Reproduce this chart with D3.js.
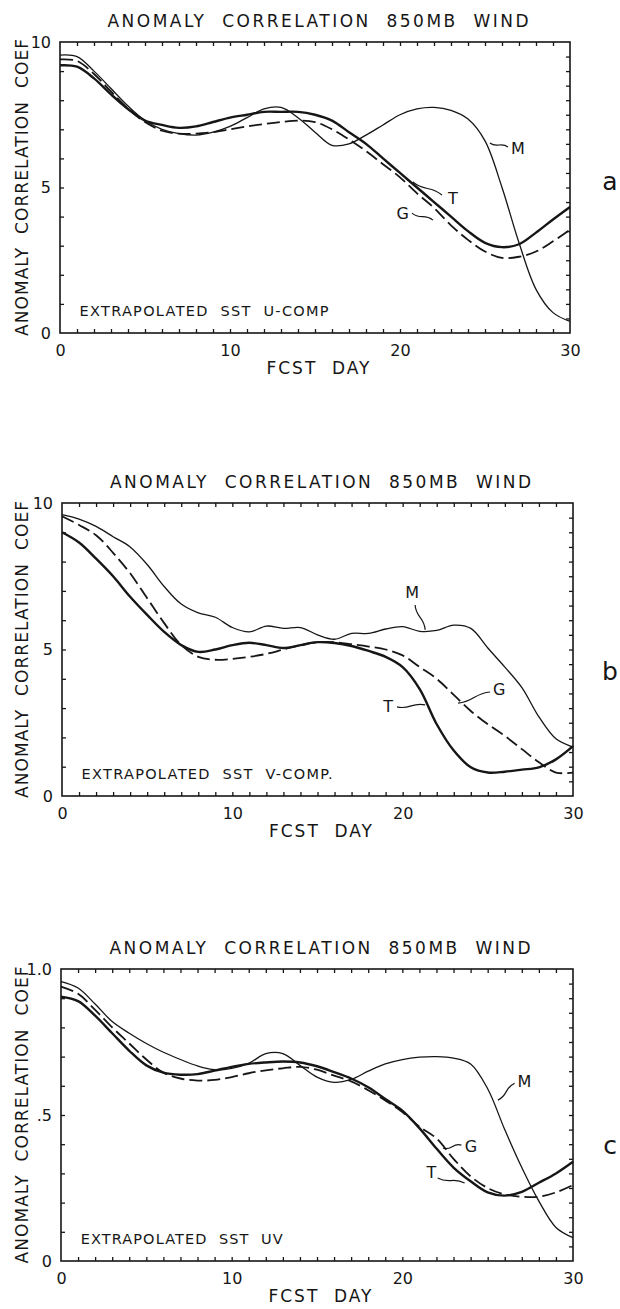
<!DOCTYPE html>
<html>
<head>
<meta charset="utf-8">
<script src="https://cdn.jsdelivr.net/npm/d3@7"></script>
<style>
  body { margin: 0; background: #fff; }
  svg text { font-family: "DejaVu Sans", sans-serif; fill: #161616; white-space: pre; }
</style>
</head>
<body>
<svg id="chart" width="620" height="1309"></svg>
<script>
// forecast day (x) for every series
const days = [0,1,2,3,4,5,6,7,8,9,10,11,12,13,14,15,16,17,18,19,20,21,22,23,24,25,26,27,28,29,30]

// panel a : extrapolated SST, u-component
const mA = [0.955,0.95,0.90,0.84,0.78,0.73,0.70,0.685,0.68,0.69,0.71,0.74,0.77,0.775,0.74,0.69,0.645,0.65,0.68,0.715,0.75,0.77,0.775,0.765,0.735,0.66,0.50,0.31,0.15,0.07,0.04]
const tA = [0.92,0.915,0.875,0.82,0.77,0.73,0.715,0.705,0.71,0.725,0.74,0.75,0.76,0.76,0.76,0.75,0.73,0.69,0.65,0.60,0.55,0.50,0.45,0.40,0.35,0.31,0.295,0.305,0.345,0.39,0.433]
const gA = [0.94,0.935,0.89,0.83,0.77,0.725,0.695,0.685,0.685,0.69,0.70,0.71,0.718,0.725,0.73,0.725,0.70,0.665,0.625,0.58,0.535,0.48,0.43,0.37,0.32,0.28,0.258,0.262,0.28,0.315,0.355]

// panel b : extrapolated SST, v-component
const mB = [0.96,0.945,0.92,0.885,0.85,0.79,0.715,0.655,0.625,0.61,0.575,0.56,0.58,0.572,0.575,0.55,0.535,0.555,0.555,0.57,0.578,0.562,0.565,0.583,0.572,0.505,0.44,0.37,0.27,0.195,0.167]
const tB = [0.90,0.865,0.81,0.75,0.68,0.618,0.56,0.515,0.492,0.50,0.515,0.523,0.515,0.505,0.515,0.525,0.522,0.512,0.495,0.475,0.44,0.365,0.245,0.155,0.098,0.08,0.083,0.09,0.098,0.125,0.17]
const gB = [0.955,0.925,0.89,0.83,0.76,0.675,0.59,0.515,0.475,0.465,0.468,0.475,0.485,0.50,0.515,0.525,0.525,0.518,0.51,0.50,0.48,0.44,0.40,0.345,0.29,0.245,0.205,0.16,0.115,0.08,0.08]

// panel c : extrapolated SST, uv
const mC = [0.957,0.935,0.88,0.82,0.78,0.745,0.715,0.69,0.668,0.655,0.66,0.677,0.71,0.71,0.67,0.63,0.612,0.622,0.65,0.675,0.69,0.698,0.70,0.695,0.675,0.59,0.45,0.32,0.205,0.115,0.08]
const tC = [0.905,0.89,0.84,0.78,0.72,0.67,0.645,0.638,0.64,0.652,0.665,0.675,0.68,0.683,0.68,0.667,0.647,0.625,0.595,0.555,0.515,0.455,0.385,0.32,0.273,0.235,0.224,0.237,0.268,0.30,0.34]
const gC = [0.94,0.915,0.86,0.80,0.745,0.69,0.645,0.625,0.618,0.62,0.63,0.643,0.653,0.66,0.665,0.655,0.635,0.615,0.585,0.55,0.51,0.46,0.42,0.35,0.29,0.25,0.228,0.22,0.22,0.235,0.26]

// tick labels
const xTickValues = [0, 10, 20, 30]
const yTickValues = [0, 0.5, 1]
const yTickLabelsA = ["0", "5", "10"]
const yTickLabelsB = ["0", "5", "10"]
const yTickLabelsC = ["0", ".5", "1.0"]

// texts
const titleText = "ANOMALY  CORRELATION  850MB  WIND"
const yLabelText = "ANOMALY  CORRELATION  COEF"
const xLabelText = "FCST  DAY"
const notes = ["EXTRAPOLATED  SST  U-COMP", "EXTRAPOLATED  SST  V-COMP.", "EXTRAPOLATED  SST  UV"]
const letters = ["a", "b", "c"]

// leader labels, in data units: [name, leader from, leader to, label at, anchor]
const tagsA = [
  ["M", [25.29, 0.653], [26.35, 0.639], [26.53, 0.615], "start"],
  ["T", [20.76, 0.519], [22.47, 0.474], [22.82, 0.443], "start"],
  ["G", [21.94, 0.388], [20.7, 0.412], [20.53, 0.392], "end"]
]
const tagsB = [
  ["M", [21.32, 0.567], [20.73, 0.652], [20.55, 0.677], "middle"],
  ["G", [23.25, 0.317], [25.13, 0.355], [25.31, 0.345], "start"],
  ["T", [21.32, 0.311], [19.67, 0.304], [19.44, 0.287], "end"]
]
const tagsC = [
  ["M", [25.6, 0.551], [26.58, 0.609], [26.75, 0.596], "start"],
  ["G", [22.38, 0.386], [23.46, 0.397], [23.65, 0.373], "start"],
  ["T", [23.65, 0.267], [22.07, 0.284], [21.42, 0.284], "start"]
]

let panels = [
  { m: mA, t: tA, g: gA, yLabels: yTickLabelsA, tags: tagsA, letterY: 190, box: { l: 60, r: 570, t: 42, b: 333 } },
  { m: mB, t: tB, g: gB, yLabels: yTickLabelsB, tags: tagsB, letterY: 680, box: { l: 62, r: 573, t: 503, b: 796 } },
  { m: mC, t: tC, g: gC, yLabels: yTickLabelsC, tags: tagsC, letterY: 1154, box: { l: 61, r: 573, t: 969, b: 1261 } }
]

const ink = "#161616"
let svg = d3.select("#chart")
svg.append("rect").attr("width", 620).attr("height", 1309).attr("fill", "#fff")

function squiggle(p0, p1) {
  let dx = p1[0] - p0[0], dy = p1[1] - p0[1]
  let len = Math.sqrt(dx * dx + dy * dy)
  let nx = -dy / len * 4, ny = dx / len * 4
  return `M${p0[0]},${p0[1]} C${p0[0] + dx * 0.45 + nx},${p0[1] + dy * 0.45 + ny} ${p0[0] + dx * 0.55 - nx},${p0[1] + dy * 0.55 - ny} ${p1[0]},${p1[1]}`
}

panels.forEach((p, i) => {
  let b = p.box
  let x = d3.scaleLinear().domain([0, 30]).range([b.l, b.r])
  let y = d3.scaleLinear().domain([0, 1]).range([b.b, b.t])
  let g = svg.append("g")

  // title
  g.append("text")
    .attr("x", (b.l + b.r) / 2 + 3).attr("y", b.t - 15)
    .attr("text-anchor", "middle").attr("font-size", 17)
    .attr("textLength", 421).attr("lengthAdjust", "spacing")
    .text(titleText)

  // small inward ticks on all four sides
  let minor = (axis) => axis.tickFormat("").tickSizeOuter(0)
  g.append("g").attr("transform", `translate(0,${b.b})`)
    .call(minor(d3.axisBottom(x).tickValues(d3.range(1, 30)).tickSizeInner(-4)))
  g.append("g").attr("transform", `translate(0,${b.t})`)
    .call(minor(d3.axisTop(x).tickValues(d3.range(1, 30)).tickSizeInner(-4)))
  g.append("g").attr("transform", `translate(${b.l},0)`)
    .call(minor(d3.axisLeft(y).tickValues(d3.range(1, 10).map(v => v / 10)).tickSizeInner(-4)))
  g.append("g").attr("transform", `translate(${b.r},0)`)
    .call(minor(d3.axisRight(y).tickValues(d3.range(1, 20).map(v => v / 20)).tickSizeInner(-4)))
  g.selectAll(".domain").remove()
  g.selectAll(".tick line").attr("stroke", ink).attr("stroke-width", 1.3)

  // frame
  g.append("rect")
    .attr("x", b.l).attr("y", b.t).attr("width", b.r - b.l).attr("height", b.b - b.t)
    .attr("fill", "none").attr("stroke", ink).attr("stroke-width", 1.6)

  // tick labels
  let xl = g.append("g").attr("transform", `translate(0,${b.b})`)
    .call(d3.axisBottom(x).tickValues(xTickValues).tickSize(0).tickPadding(11.5))
  let yl = g.append("g").attr("transform", `translate(${b.l},0)`)
    .call(d3.axisLeft(y).tickValues(yTickValues).tickSize(0).tickPadding(9)
      .tickFormat((d, k) => p.yLabels[k]))
  xl.select(".domain").remove()
  yl.select(".domain").remove()
  svg.selectAll(".tick text").attr("font-size", 16).attr("fill", ink)
    .attr("font-family", "DejaVu Sans, sans-serif")

  // axis titles
  g.append("text")
    .attr("x", (b.l + b.r) / 2 + 3).attr("y", b.b + 41)
    .attr("text-anchor", "middle").attr("font-size", 17)
    .attr("textLength", 103).attr("lengthAdjust", "spacing")
    .text(xLabelText)
  g.append("text")
    .attr("transform", `translate(28,${(b.t + b.b) / 2}) rotate(-90)`)
    .attr("text-anchor", "middle").attr("font-size", 17)
    .attr("textLength", 297).attr("lengthAdjust", "spacing")
    .text(yLabelText)

  // note + panel letter
  let noteW = [249, 251, 202][i]
  g.append("text")
    .attr("x", x(1.15)).attr("y", b.b - 17)
    .attr("font-size", 14.5)
    .attr("textLength", noteW).attr("lengthAdjust", "spacing")
    .text(notes[i])
  g.append("text")
    .attr("x", 610).attr("y", p.letterY)
    .attr("text-anchor", "middle").attr("font-size", 25)
    .text(letters[i])

  // curves
  let line = d3.line()
    .x((d, k) => x(days[k]))
    .y(d => y(d))
    .curve(d3.curveCatmullRom.alpha(0.5))

  g.append("path").datum(p.g).attr("d", line)
    .attr("fill", "none").attr("stroke", ink).attr("stroke-width", 1.8)
    .attr("stroke-dasharray", "13,5")
  g.append("path").datum(p.m).attr("d", line)
    .attr("fill", "none").attr("stroke", ink).attr("stroke-width", 1.3)
  g.append("path").datum(p.t).attr("d", line)
    .attr("fill", "none").attr("stroke", ink).attr("stroke-width", 2.4)

  // series tags with squiggly leaders
  for (let tag of p.tags) {
    let p0 = [x(tag[1][0]), y(tag[1][1])]
    let p1 = [x(tag[2][0]), y(tag[2][1])]
    g.append("path").attr("d", squiggle(p0, p1))
      .attr("fill", "none").attr("stroke", ink).attr("stroke-width", 1.2)
    g.append("text")
      .attr("x", x(tag[3][0])).attr("y", y(tag[3][1]))
      .attr("text-anchor", tag[4]).attr("font-size", 16)
      .text(tag[0])
  }
})
</script>
</body>
</html>
